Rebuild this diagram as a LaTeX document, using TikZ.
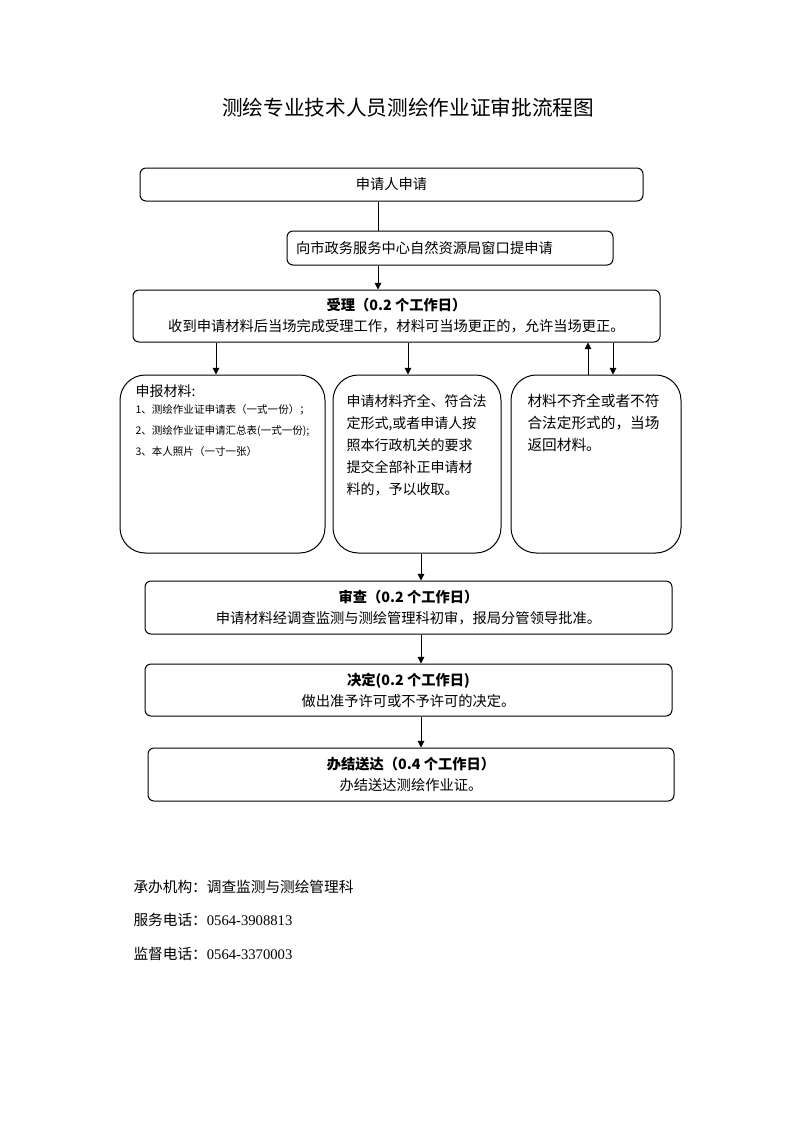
\documentclass[tikz,border=0pt]{standalone}
\usepackage{fontspec}
\setmainfont{Noto Sans CJK SC}
\newfontfamily\cifras{Liberation Serif}
\usetikzlibrary{arrows.meta}

\begin{document}
\begin{tikzpicture}[x=0.75pt, y=-0.75pt, line width=0.75pt, line join=round,
    caja/.style={draw, rounded corners=4.5pt, inner sep=0pt, align=center,
      font=\fontsize{10.7}{15.75}\selectfont},
    cajagrande/.style={draw, rounded corners=19pt, inner sep=0pt,
      minimum height=133.5pt},
    texto/.style={anchor=north west, inner sep=0pt, align=left},
    flecha/.style={-{Triangle[length=5pt, width=5pt]}}]
  \useasboundingbox (0,0) rectangle (793,1122);
  % el titulo
  \node (titulo) at (408,108) {\fontsize{15.5}{18}\selectfont 测绘专业技术人员测绘作业证审批流程图};
  % las cajas de arriba
  \node[caja, minimum width=377.25pt, minimum height=24.75pt] (solicitud) at (391.5,184.5) {申请人申请};
  \node[caja, text width=231pt, inner xsep=6.75pt, minimum height=25.5pt, align=left] (ventanilla) at (450,248) {向市政务服务中心自然资源局窗口提申请};
  \node[caja, minimum width=395.25pt, minimum height=39pt] (aceptacion) at (396.5,316)
    {\textbf{受理（0.2 个工作日）}\\收到申请材料后当场完成受理工作，材料可当场更正的，允许当场更正。};
  % las tres cajas redondas
  \node[cajagrande, minimum width=153.75pt] (materiales) at (222.5,464) {};
  \node[cajagrande, minimum width=126pt] (completos) at (417,464) {};
  \node[cajagrande, minimum width=127.5pt] (incompletos) at (596,464) {};
  \node[texto, font=\fontsize{10.5}{12}\selectfont] (materialestit) at (135,384) {申报材料:};
  \foreach \n/\y/\t in {1/404/{1、测绘作业证申请表（一式一份）；},
                        2/425/{2、测绘作业证申请汇总表(一式一份);},
                        3/446/{3、本人照片（一寸一张）}} {
    \node[texto, font=\fontsize{7.9}{9}\selectfont] (item\n) at (135,\y) {\t};
  }
  \node[texto, font=\fontsize{10.5}{16.5}\selectfont] (completostxt) at (346,394)
    {申请材料齐全、符合法\\定形式,或者申请人按\\照本行政机关的要求\\提交全部补正申请材\\料的，予以收取。};
  \node[texto, font=\fontsize{11}{16.5}\selectfont] (incompletostxt) at (527,394)
    {材料不齐全或者不符\\合法定形式的，当场\\返回材料。};
  % las cajas de abajo
  \node[caja, minimum width=395.25pt, minimum height=39.75pt] (examen) at (408.5,607.5)
    {\textbf{审查（0.2 个工作日）}\\申请材料经调查监测与测绘管理科初审，报局分管领导批准。};
  \node[caja, minimum width=395.25pt, minimum height=39pt] (decision) at (408.5,690)
    {\textbf{决定(0.2 个工作日)}\\做出准予许可或不予许可的决定。};
  \node[caja, minimum width=394.5pt, minimum height=39.75pt] (entrega) at (411,774.5)
    {\textbf{办结送达（0.4 个工作日）}\\办结送达测绘作业证。};
  % las flechas
  \draw (solicitud.south -| 378,0) -- (ventanilla.north -| 378,0);
  \draw[flecha] (ventanilla.south -| 378,0) -- (aceptacion.north -| 378,0);
  \draw[flecha] (aceptacion.south -| 216,0) -- (materiales.north -| 216,0);
  \draw[flecha] (aceptacion.south -| 408,0) -- (completos.north -| 408,0);
  \draw[flecha] (incompletos.north -| 588,0) -- (aceptacion.south -| 588,0);
  \draw[flecha] (aceptacion.south -| 613,0) -- (incompletos.north -| 613,0);
  \draw[flecha] (completos.south -| 421,0) -- (examen.north -| 421,0);
  \draw[flecha] (examen.south -| 421,0) -- (decision.north -| 421,0);
  \draw[flecha] (decision.south -| 421,0) -- (entrega.north -| 421,0);
  % el pie
  \node[anchor=west, inner sep=0pt, font=\fontsize{11}{13}\selectfont] (oficina) at (133,887) {承办机构：调查监测与测绘管理科};
  \node[anchor=west, inner sep=0pt, font=\fontsize{11}{13}\selectfont] (servicio) at (133,920) {服务电话：{\cifras 0564-3908813}};
  \node[anchor=west, inner sep=0pt, font=\fontsize{11}{13}\selectfont] (control) at (133,954) {监督电话：{\cifras 0564-3370003}};
\end{tikzpicture}
\end{document}
